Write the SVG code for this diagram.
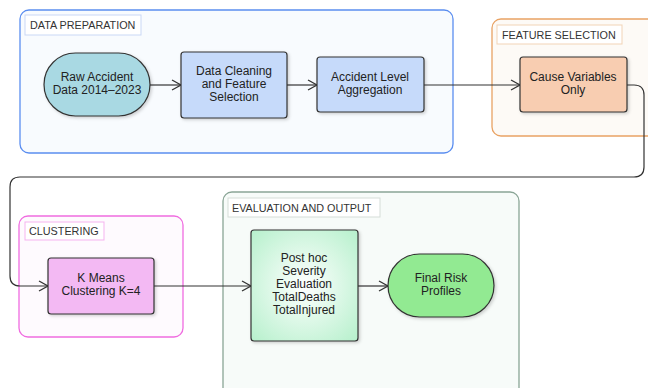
<svg xmlns="http://www.w3.org/2000/svg" width="648" height="388" viewBox="0 0 648 388">
<defs>
<marker id="arr" markerWidth="12" markerHeight="12" refX="10" refY="6" orient="auto" markerUnits="userSpaceOnUse">
<path d="M1,1 L10,6 L1,11" fill="none" stroke="#333" stroke-width="1.3"/>
</marker>
<filter id="sh" x="-10%" y="-10%" width="130%" height="130%">
<feDropShadow dx="1.5" dy="1.5" stdDeviation="1.5" flood-color="#000" flood-opacity="0.18"/>
</filter>
<radialGradient id="gpost" cx="50%" cy="50%" r="70%">
<stop offset="0%" stop-color="#ffffff"/>
<stop offset="100%" stop-color="#b6f0cc"/>
</radialGradient>
<style>
.grp{stroke-width:1.3;}
.lbl{fill:#fff;stroke-width:1;}
.lt{font-family:"Liberation Sans",Arial,sans-serif;font-size:10.8px;fill:#333;}
.node{stroke:#333;stroke-width:1.2;filter:url(#sh);}
.nt{font-family:"Liberation Sans",Arial,sans-serif;font-size:12px;fill:#222;text-anchor:middle;}
.conn{fill:none;stroke:#333;stroke-width:1.2;}
</style>
</defs>
<rect width="648" height="388" fill="#fff"/>

<g id="grp-data-preparation">
<rect class="grp" x="20" y="10" width="433" height="143" rx="9" fill="#f8fbfe" stroke="#5b8ef0"/>
<rect class="lbl" x="25" y="15" width="116" height="20" stroke="#c9d8f5"/>
<text class="lt" x="30" y="29">DATA PREPARATION</text>
</g>

<g id="grp-feature-selection">
<rect class="grp" x="492" y="19" width="170" height="117" rx="9" fill="#fdfaf6" stroke="#e9a364"/>
<rect class="lbl" x="497" y="25" width="125" height="19" stroke="#f2d3b6"/>
<text class="lt" x="502" y="38.5">FEATURE SELECTION</text>
</g>

<g id="grp-clustering">
<rect class="grp" x="19" y="216" width="164" height="121" rx="9" fill="#fefafe" stroke="#f06ce0"/>
<rect class="lbl" x="25" y="222" width="79" height="18" stroke="#f5b3ef"/>
<text class="lt" x="29" y="235">CLUSTERING</text>
</g>

<g id="grp-evaluation">
<rect class="grp" x="223" y="192" width="296" height="210" rx="9" fill="#f7fbf9" stroke="#8aa596"/>
<rect class="lbl" x="228" y="198" width="152" height="19" stroke="#d5ddd8"/>
<text class="lt" x="232" y="211.5">EVALUATION AND OUTPUT</text>
</g>

<g id="connectors">
<path class="conn" d="M150,85 L181,85" marker-end="url(#arr)"/>
<path class="conn" d="M287,85 L317,85" marker-end="url(#arr)"/>
<path class="conn" d="M424,85 L520,85" marker-end="url(#arr)"/>
<path class="conn" d="M627,85 L634,85 Q644,85 644,95 L644,167 Q644,177 634,177 L20,177 Q10,177 10,187 L10,276 Q10,286 20,286 L48,286" marker-end="url(#arr)"/>
<path class="conn" d="M154,286 L251,286" marker-end="url(#arr)"/>
<path class="conn" d="M358,286 L388,286" marker-end="url(#arr)"/>
</g>

<g id="n-raw">
<rect class="node" x="44" y="53" width="106" height="63" rx="31.5" fill="#a9d9e3"/>
<text class="nt" x="97" y="81">Raw Accident</text>
<text class="nt" x="97" y="94">Data 2014–2023</text>
</g>

<g id="n-clean">
<rect class="node" x="181" y="52" width="106" height="66" rx="3" fill="#c6dafa"/>
<text class="nt" x="234" y="75">Data Cleaning</text>
<text class="nt" x="234" y="88">and Feature</text>
<text class="nt" x="234" y="101">Selection</text>
</g>

<g id="n-agg">
<rect class="node" x="317" y="57" width="107" height="55" rx="3" fill="#c6dafa"/>
<text class="nt" x="370" y="81">Accident Level</text>
<text class="nt" x="370" y="94">Aggregation</text>
</g>

<g id="n-cause">
<rect class="node" x="520" y="57" width="107" height="55" rx="3" fill="#f8cdb1"/>
<text class="nt" x="573" y="81">Cause Variables</text>
<text class="nt" x="573" y="94">Only</text>
</g>

<g id="n-kmeans">
<rect class="node" x="48" y="258" width="106" height="56" rx="3" fill="#f3b9f3"/>
<text class="nt" x="101" y="282">K Means</text>
<text class="nt" x="101" y="295">Clustering K=4</text>
</g>

<g id="n-posthoc">
<rect class="node" x="251" y="230" width="107" height="111" rx="3" fill="url(#gpost)"/>
<text class="nt" x="304" y="262">Post hoc</text>
<text class="nt" x="304" y="275">Severity</text>
<text class="nt" x="304" y="288">Evaluation</text>
<text class="nt" x="304" y="301">TotalDeaths</text>
<text class="nt" x="304" y="314">TotalInjured</text>
</g>

<g id="n-final">
<rect class="node" x="388" y="254" width="106" height="63" rx="31.5" fill="#92ea92"/>
<text class="nt" x="441" y="282">Final Risk</text>
<text class="nt" x="441" y="295">Profiles</text>
</g>
</svg>
